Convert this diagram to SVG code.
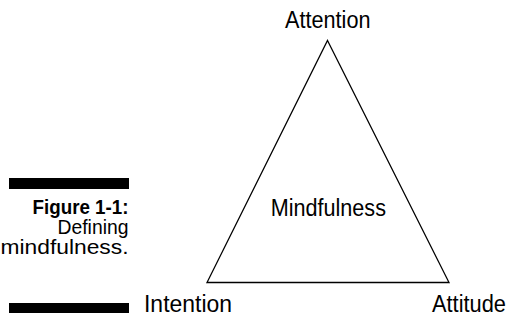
<svg xmlns="http://www.w3.org/2000/svg" width="509" height="320" viewBox="0 0 509 320">
  <style>
    .lbl { font-family: "Liberation Sans", Arial, sans-serif; font-size: 23px; fill: #000; }
    .cap { font-family: "Liberation Sans", Arial, sans-serif; font-size: 19.5px; fill: #000; text-anchor: end; }
    .bar { fill: #000; }
    .edge { fill: none; stroke: #000; stroke-width: 1.3; stroke-linejoin: miter; }
  </style>
  <rect width="509" height="320" fill="#fff"/>

  <!-- figure caption -->
  <g id="caption">
    <rect class="bar" x="9" y="178" width="120" height="11"/>
    <text class="cap" x="128.5" y="213.5" font-weight="bold" textLength="96" lengthAdjust="spacingAndGlyphs">Figure 1-1:</text>
    <text class="cap" x="128.5" y="233.5" textLength="71" lengthAdjust="spacingAndGlyphs">Defining</text>
    <text class="cap" x="128.5" y="253.5" textLength="128" lengthAdjust="spacingAndGlyphs">mindfulness.</text>
    <rect class="bar" x="9" y="303" width="120" height="10"/>
  </g>

  <!-- triangle edges -->
  <g id="connectors">
    <path class="edge" d="M327.5 40.5 L449 282.5 L207 282.5 Z"/>
  </g>

  <g id="attention">
    <text class="lbl" x="285" y="28.3" textLength="85.5" lengthAdjust="spacingAndGlyphs">Attention</text>
  </g>
  <g id="intention">
    <text class="lbl" x="144" y="312" textLength="88" lengthAdjust="spacingAndGlyphs">Intention</text>
  </g>
  <g id="attitude">
    <text class="lbl" x="432" y="312" textLength="74" lengthAdjust="spacingAndGlyphs">Attitude</text>
  </g>
  <g id="mindfulness">
    <text class="lbl" x="270.7" y="215.7" textLength="115.3" lengthAdjust="spacingAndGlyphs">Mindfulness</text>
  </g>
</svg>
